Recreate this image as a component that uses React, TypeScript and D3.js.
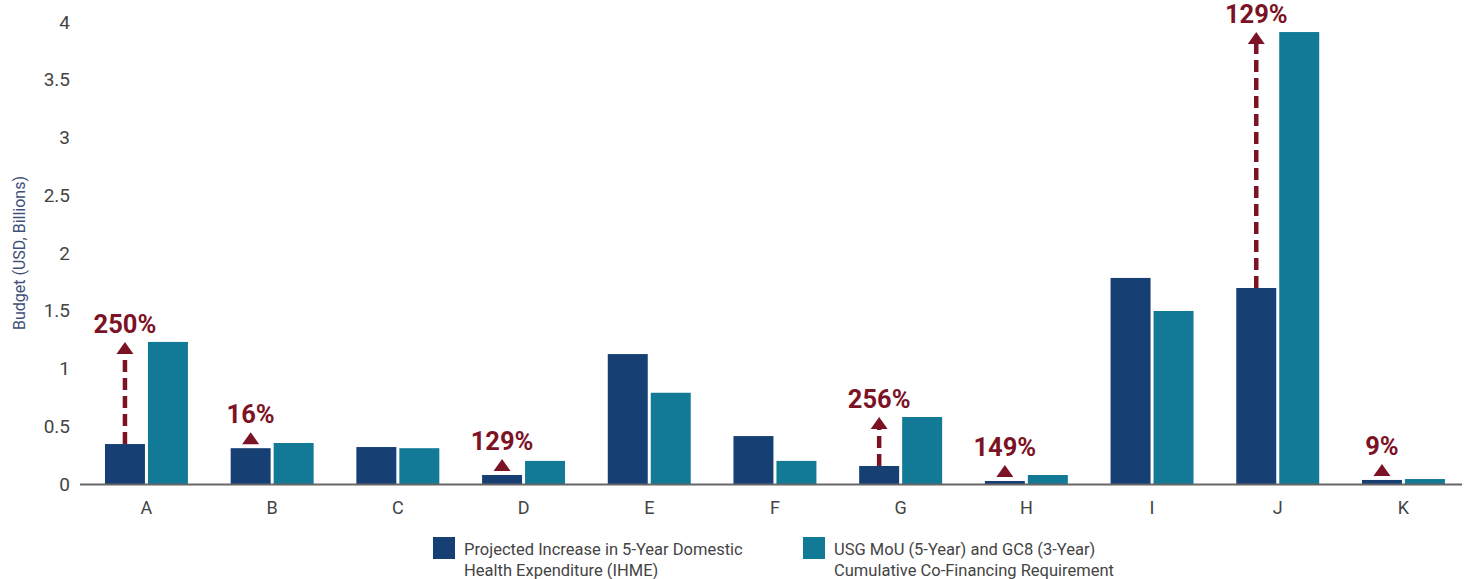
import React from "react";
import * as d3 from "d3";

const categories = ["A", "B", "C", "D", "E", "F", "G", "H", "I", "J", "K"];
const ihmeValues = [0.346, 0.31, 0.32, 0.078, 1.125, 0.415, 0.156, 0.026, 1.784, 1.697, 0.035];
const coFinValues = [1.23, 0.355, 0.31, 0.2, 0.79, 0.2, 0.58, 0.078, 1.498, 3.913, 0.043];
const yTicks = [0, 0.5, 1, 1.5, 2, 2.5, 3, 3.5, 4];
const annotCats = ["A", "B", "D", "G", "H", "J", "K"];
const annotLabels = ["250%", "16%", "129%", "256%", "149%", "129%", "9%"];
const seriesNames = [
  ["Projected Increase in 5-Year Domestic", "Health Expenditure (IHME)"],
  ["USG MoU (5-Year) and GC8 (3-Year)", "Cumulative Co-Financing Requirement"],
];

const W = 1464;
const H = 579;
const NAVY = "#163f73";
const TEAL = "#127a96";
const RED = "#7b1325";
const FONT = "Roboto, 'Open Sans', sans-serif";

export default function App() {
  const x = d3.scaleBand<string>().domain(categories).range([83.6, 1466.3]).paddingInner(0.34).paddingOuter(0.17);
  const sub = d3.scaleBand<number>().domain([0, 1]).range([0, x.bandwidth()]).paddingInner(0.07);
  const y = d3.scaleLinear().domain([0, 4]).range([484, 22]);
  const series = [ihmeValues, coFinValues];
  const colors = [NAVY, TEAL];

  return (
    <svg width={W} height={H} style={{ position: "absolute", left: 0, top: 0, background: "#fff" }} fontFamily={FONT}>
      {/* y tick labels */}
      {yTicks.map((t) => (
        <text key={t} x={70} y={y(t)} dy="0.35em" textAnchor="end" fontSize={19} fill="#444">
          {String(t)}
        </text>
      ))}
      <text transform={`translate(25,${253}) rotate(-90)`} textAnchor="middle" fontSize={16} fill="#3f5178">
        Budget (USD, Billions)
      </text>
      {/* bars */}
      {categories.map((c, i) => (
        <g key={c} transform={`translate(${x(c)},0)`}>
          {series.map((s, k) => (
            <rect key={k} x={sub(k)} y={y(s[i])} width={sub.bandwidth()} height={y(0) - y(s[i])} fill={colors[k]} />
          ))}
        </g>
      ))}
      {/* axis line */}
      <line x1={80} x2={1462} y1={y(0) + 0.5} y2={y(0) + 0.5} stroke="#666" strokeWidth={2} />
      {/* x labels */}
      {categories.map((c) => (
        <text key={c} x={(x(c) as number) + x.bandwidth() / 2} y={508} dy="0.35em" textAnchor="middle" fontSize={18} fill="#444">
          {c}
        </text>
      ))}
      {/* annotations */}
      {annotCats.map((c, j) => {
        const i = categories.indexOf(c);
        const cx = (x(c) as number) + (sub(0) as number) + sub.bandwidth() / 2;
        const darkTop = y(ihmeValues[i]);
        const tealTop = y(coFinValues[i]);
        const tip = Math.min(tealTop, darkTop - 16);
        const headH = 12;
        const headW = 17;
        const lineStart = darkTop;
        const lineEnd = tip + headH;
        return (
          <g key={c + j}>
            {lineStart - lineEnd > 6 && (
              <line x1={cx} x2={cx} y1={lineStart} y2={lineEnd} stroke={RED} strokeWidth={4.5} strokeDasharray="12 6" />
            )}
            <path d={`M${cx},${tip} L${cx + headW / 2},${tip + headH} L${cx - headW / 2},${tip + headH} Z`} fill={RED} />
            <text x={cx} y={tip - 9} textAnchor="middle" fontSize={25.5} fontWeight={700} fill={RED}>
              {annotLabels[j]}
            </text>
          </g>
        );
      })}
      {/* legend */}
      {seriesNames.map((lines, k) => {
        const lx = k === 0 ? 433 : 803;
        return (
          <g key={k}>
            <rect x={lx} y={537} width={22} height={22} fill={colors[k]} />
            {lines.map((ln, m) => (
              <text key={m} x={lx + 31} y={555 + m * 21} fontSize={16.5} fill="#444">
                {ln}
              </text>
            ))}
          </g>
        );
      })}
    </svg>
  );
}
